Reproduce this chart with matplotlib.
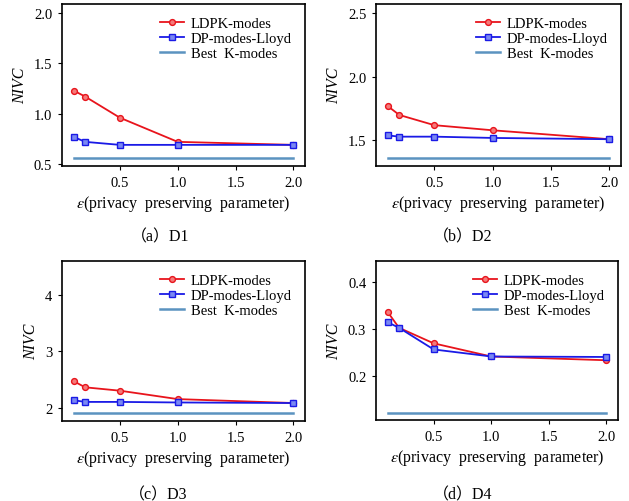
import numpy as np
import matplotlib
matplotlib.use('Agg')
import matplotlib.pyplot as plt

plt.rcParams['font.family'] = ['Liberation Serif', 'Noto Sans CJK SC']
plt.rcParams['mathtext.fontset'] = 'stix'

# ---- data ----
eps = [0.1, 0.2, 0.5, 1.0, 2.0]

ldpk_d1 = [1.23, 1.17, 0.96, 0.72, 0.69]
dp_d1 = [0.77, 0.72, 0.69, 0.69, 0.69]
best_d1 = 0.56

ldpk_d2 = [1.77, 1.70, 1.62, 1.58, 1.51]
dp_d2 = [1.54, 1.53, 1.53, 1.52, 1.51]
best_d2 = 1.36

ldpk_d3 = [2.47, 2.36, 2.30, 2.15, 2.08]
dp_d3 = [2.13, 2.10, 2.10, 2.09, 2.08]
best_d3 = 1.91

ldpk_d4 = [0.336, 0.302, 0.269, 0.241, 0.233]
dp_d4 = [0.314, 0.302, 0.256, 0.241, 0.240]
best_d4 = 0.121

captions = ['（a）D1', '（b）D2', '（c）D3', '（d）D4']
ylims = [(0.48, 2.09), (1.30, 2.57), (1.76, 4.61), (0.106, 0.444)]
yticks = [[0.5, 1.0, 1.5, 2.0], [1.5, 2.0, 2.5], [2, 3, 4], [0.2, 0.3, 0.4]]
yfmt = ['{:.1f}', '{:.1f}', '{:.0f}', '{:.1f}']

# axes boxes in pixels: left, top, right, bottom
boxes = [(62, 5, 305, 167), (376, 5, 621, 167),
         (62, 262, 305, 422), (376, 262, 618, 421)]
# caption centres in pixels (x, y)
cap_pos = [(160, 237), (463, 237), (158, 495), (463, 495)]

W, H = 629, 502
fig = plt.figure(figsize=(W / 100, H / 100), dpi=100)

datasets = [(ldpk_d1, dp_d1, best_d1), (ldpk_d2, dp_d2, best_d2),
            (ldpk_d3, dp_d3, best_d3), (ldpk_d4, dp_d4, best_d4)]

for i, (ldpk, dp, best) in enumerate(datasets):
    l, t, r, b = boxes[i]
    ax = fig.add_axes([l / W, 1 - b / H, (r - l) / W, (b - t) / H])
    ax.plot(eps, ldpk, '-o', color='#e8141c', lw=1.3, ms=4.2,
            mfc='#f47a7a', mec='#e8141c', mew=1.0, label='LDPK-modes')
    ax.plot(eps, dp, '-s', color='#1a1ae6', lw=1.3, ms=4.2,
            mfc='#7a88f2', mec='#1a1ae6', mew=1.0, label='DP-modes-Lloyd')
    ax.plot(eps, [best] * len(eps), '-', color='#5b93c0', lw=1.8,
            label='Best  K-modes')
    ax.set_xlim(0.0, 2.1)
    ax.set_ylim(*ylims[i])
    ax.set_xticks([0.5, 1.0, 1.5, 2.0])
    ax.set_xticklabels(['0.5', '1.0', '1.5', '2.0'])
    ax.set_yticks(yticks[i])
    ax.set_yticklabels([yfmt[i].format(v) for v in yticks[i]])
    ax.tick_params(labelsize=10.5, length=3, width=0.8, direction='out', pad=4)
    for s in ax.spines.values():
        s.set_linewidth(1.2)
    ax.set_ylabel('NIVC', fontsize=11.5, style='italic', labelpad=4)
    ax.set_xlabel('$\\varepsilon$(privacy  preserving  parameter)', fontsize=11.5, labelpad=3)
    ax.legend(loc='upper right', frameon=False, fontsize=10.5, handlelength=1.7,
              labelspacing=0.1, borderaxespad=0.5, handletextpad=0.45)
    cx, cy = cap_pos[i]
    fig.text(cx / W, 1 - cy / H, captions[i], ha='center', va='center', fontsize=11.5)

fig.savefig('out.png', dpi=100)
